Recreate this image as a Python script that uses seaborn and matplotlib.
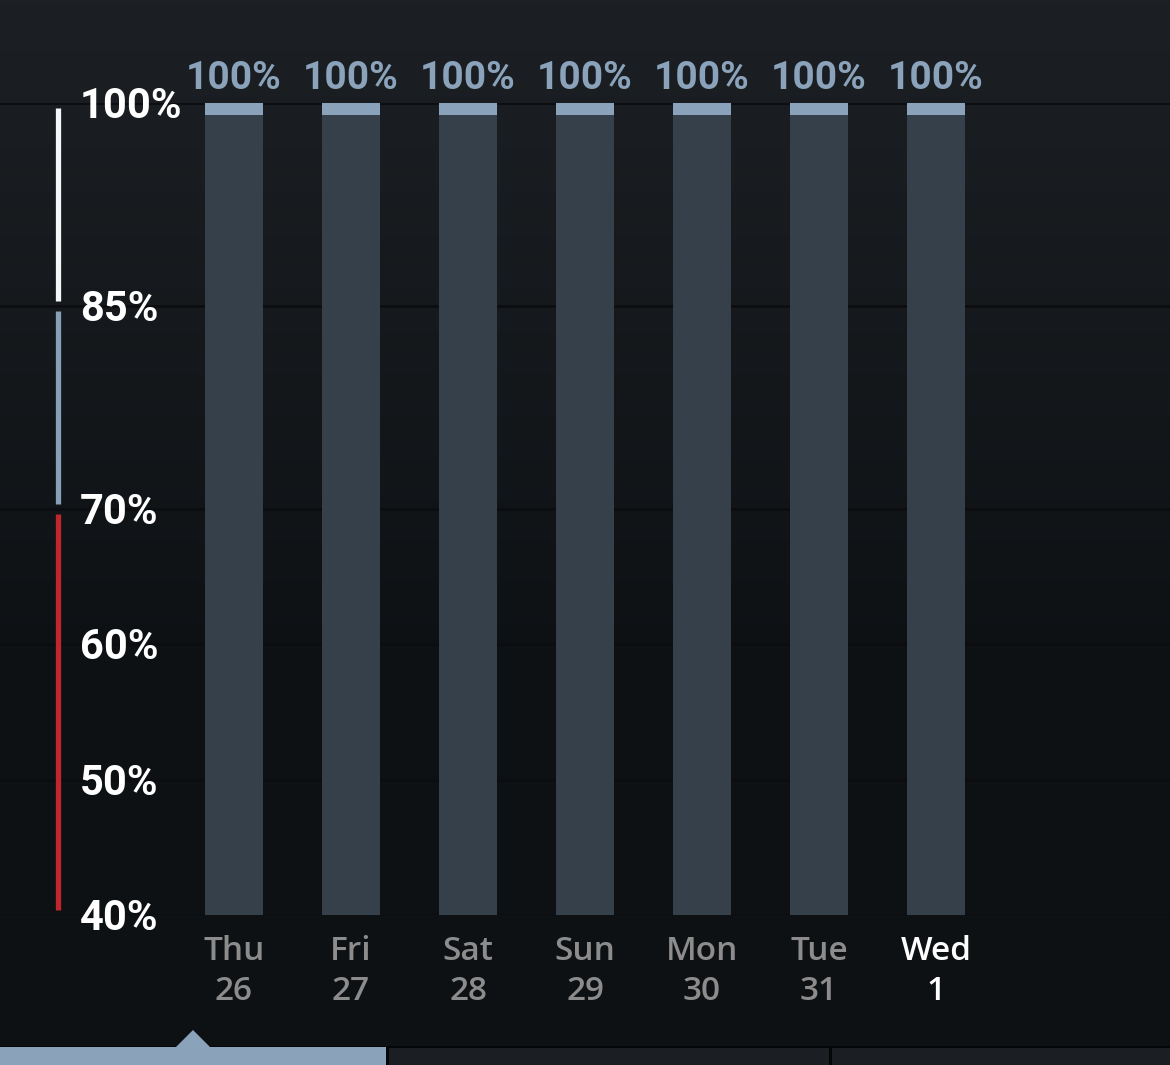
import numpy as np
import pandas as pd
import matplotlib
matplotlib.use("Agg")
import matplotlib.pyplot as plt
import seaborn as sns
from matplotlib.patches import Rectangle, Polygon

# ---- data ----
days = ["Thu", "Fri", "Sat", "Sun", "Mon", "Tue", "Wed"]
dates = ["26", "27", "28", "29", "30", "31", "1"]
values = [100, 100, 100, 100, 100, 100, 100]
value_labels = ["100%"] * 7
y_ticks = [40, 50, 60, 70, 85, 100]
y_tick_labels = ["40%", "50%", "60%", "70%", "85%", "100%"]
bands = [(85, 100, "#f4f6f8"), (70, 85, "#87a0b8"), (40, 70, "#c0272d")]

sns.set_theme(style="dark")
plt.rcParams["font.family"] = ["Roboto", "DejaVu Sans"]

W, H = 1170, 1065
fig = plt.figure(figsize=(W / 100, H / 100), dpi=100)

# background gradient
bg = fig.add_axes([0, 0, 1, 1], zorder=-5)
grad = np.linspace(0, 1, 256).reshape(-1, 1)
top = np.array([0x1c, 0x20, 0x24]) / 255
bot = np.array([0x0e, 0x11, 0x14]) / 255
t = np.clip(grad * 1.6, 0, 1)
img = top * (1 - t)[..., None] + bot * t[..., None]
img = img.reshape(256, 1, 3)
bg.imshow(img, aspect="auto", extent=[0, 1, 0, 1], origin="upper")
bg.set_axis_off()

# main axes: y 40 -> px 915, 100 -> px 103
y_bot_px, y_top_px = 915, 103
ax = fig.add_axes([0, (H - y_bot_px) / H, 1, (y_bot_px - y_top_px) / H])
ax.patch.set_alpha(0)

df = pd.DataFrame({"day": days, "value": values})
cap = 0.9
df["inner"] = df["value"] - cap

sns.barplot(data=df, x="day", y="value", order=days, color="#8aa2ba",
            saturation=1, width=0.5, ax=ax, zorder=3, linewidth=0, edgecolor="none")
sns.barplot(data=df, x="day", y="inner", order=days, color="#36404a",
            saturation=1, width=0.5, ax=ax, zorder=4, linewidth=0, edgecolor="none")

ax.set_xlim(-2, 8)
ax.set_ylim(40, 100)
ax.set_xlabel("")
ax.set_ylabel("")
ax.set_xticks([])
ax.set_yticks([])
for s in ax.spines.values():
    s.set_visible(False)
ax.grid(False)

# gridlines
for yv in y_ticks:
    ax.axhline(yv, color="#0b0d10", lw=2, zorder=1)

# value labels
for i, lab in enumerate(value_labels):
    ax.text(i, values[i] + 1.8, lab, ha="center", va="center",
            color="#8aa2ba", fontsize=28, fontweight="bold", zorder=5)

# y tick labels
xlab = (80 / W) * 10 - 2
for yv, lab in zip(y_ticks, y_tick_labels):
    ax.text(xlab, yv - 0.25, lab, ha="left", va="center", color="white",
            fontsize=30, fontweight="bold", zorder=5)

# left colour stripe
xs = (58 / W) * 10 - 2
for lo, hi, c in bands:
    ax.plot([xs, xs], [lo + 0.35, hi - 0.35], color=c, lw=3.8,
            solid_capstyle="butt", zorder=5, clip_on=False)

# x labels
for i, (d, n) in enumerate(zip(days, dates)):
    col = "white" if i == len(days) - 1 else "#8c8c8c"
    xp = (234 + 117 * i) / W
    fig.text(xp, 1 - 951 / H, d, ha="center", va="center", color=col,
             fontsize=24, family=["Open Sans", "DejaVu Sans"], fontweight="semibold")
    fig.text(xp, 1 - 991 / H, n, ha="center", va="center", color=col,
             fontsize=24, family=["Open Sans", "DejaVu Sans"], fontweight="semibold")

# bottom tab strip
def px_rect(x0, y0, x1, y1, color, z=10):
    fig.add_artist(Rectangle((x0 / W, 1 - y1 / H), (x1 - x0) / W, (y1 - y0) / H,
                             transform=fig.transFigure, color=color, zorder=z, lw=0))

px_rect(0, 1046, W, H, "#050607", 9)
px_rect(0, 1047, 386, H, "#8aa2ba")
px_rect(389, 1048, 829, H, "#1b1f23")
px_rect(832, 1048, W, H, "#1b1f23")
tri = Polygon([(175 / W, 1 - 1048 / H), (193 / W, 1 - 1030 / H), (211 / W, 1 - 1048 / H)],
              closed=True, transform=fig.transFigure, color="#8aa2ba", zorder=10, lw=0)
fig.add_artist(tri)

fig.savefig("out.png", dpi=100)
